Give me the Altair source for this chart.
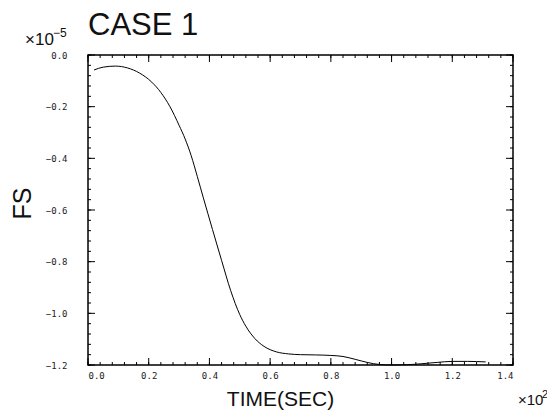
import altair as alt
import pandas as pd

# ---- data (time in units of 10^2 s, FS in units of 10^-5) ----
time_vals = [0.02, 0.05, 0.09, 0.13, 0.17, 0.21, 0.24, 0.27, 0.30, 0.32,
             0.34, 0.36, 0.38, 0.41, 0.44, 0.47, 0.50, 0.52, 0.55, 0.58,
             0.62, 0.66, 0.70, 0.75, 0.80, 0.84, 0.88, 0.92, 0.96, 1.00,
             1.05, 1.10, 1.15, 1.20, 1.25, 1.31]
fs_vals = [-0.058, -0.047, -0.043, -0.050, -0.070, -0.105, -0.145, -0.200, -0.272, -0.325,
           -0.390, -0.470, -0.553, -0.675, -0.795, -0.912, -1.005, -1.050, -1.098, -1.128,
           -1.149, -1.157, -1.160, -1.161, -1.163, -1.167, -1.178, -1.190, -1.198, -1.200,
           -1.199, -1.195, -1.190, -1.186, -1.186, -1.188]

x_major = [0.0, 0.2, 0.4, 0.6, 0.8, 1.0, 1.2, 1.4]
y_major = [0.0, -0.2, -0.4, -0.6, -0.8, -1.0, -1.2]
x_minor = [round(i * 0.04, 2) for i in range(0, 36)]
y_minor = [round(-i * 0.04, 2) for i in range(0, 31)]

W, H = 425, 310
MAJ, MIN = 7, 3

curve = pd.DataFrame({"t": time_vals, "fs": fs_vals})
xs = alt.Scale(domain=[0, 1.4], nice=False, zero=False)
ys = alt.Scale(domain=[-1.2, 0.0], nice=False, zero=False)

line = alt.Chart(curve).mark_line(color="black", strokeWidth=1, interpolate="monotone").encode(
    x=alt.X("t:Q", scale=xs, title="TIME(SEC)",
            axis=alt.Axis(values=x_major, format=".1f", ticks=False, domain=False, grid=False,
                          labelFont="DejaVu Sans Mono", labelFontSize=9, labelColor="#222",
                          labelPadding=6, titleFont="Liberation Sans", titleFontSize=21,
                          titleFontWeight="normal", titleColor="#111",
                          titleX=192, titleY=40, titleBaseline="alphabetic")),
    y=alt.Y("fs:Q", scale=ys, title="FS",
            axis=alt.Axis(values=y_major, format=".1f", ticks=False, domain=False, grid=False,
                          labelFont="DejaVu Sans Mono", labelFontSize=9, labelColor="#222",
                          labelPadding=21, titleFont="Liberation Sans", titleFontSize=25,
                          titleFontWeight="normal", titleColor="#111",
                          titleX=-66, titleY=148, titleBaseline="middle")),
)

def yticks(vals, length):
    d = pd.DataFrame({"v": vals})
    left = alt.Chart(d).mark_rule(color="black", strokeWidth=1).encode(
        y=alt.Y("v:Q", scale=ys), x=alt.value(0), x2=alt.value(length))
    right = alt.Chart(d).mark_rule(color="black", strokeWidth=1).encode(
        y=alt.Y("v:Q", scale=ys), x=alt.value(W), x2=alt.value(W - length))
    return [left, right]

def xticks(vals, length):
    d = pd.DataFrame({"v": vals})
    bottom = alt.Chart(d).mark_rule(color="black", strokeWidth=1).encode(
        x=alt.X("v:Q", scale=xs), y=alt.value(H), y2=alt.value(H - length))
    top = alt.Chart(d).mark_rule(color="black", strokeWidth=1).encode(
        x=alt.X("v:Q", scale=xs), y=alt.value(0), y2=alt.value(length))
    return [bottom, top]

ticks = yticks(y_major, MAJ) + yticks(y_minor, MIN) + xticks(x_major, MAJ) + xticks(x_minor, MIN)

title = alt.Chart().mark_text(text="CASE 1", align="left", baseline="alphabetic",
                              font="Liberation Sans", fontSize=31, color="#111").encode(
    x=alt.value(0), y=alt.value(-20))
ymul = alt.Chart().mark_text(text="×10", align="left", baseline="alphabetic",
                             font="Liberation Sans", fontSize=17, color="#111").encode(
    x=alt.value(-63), y=alt.value(-10))
yexp = alt.Chart().mark_text(text="−5", align="left", baseline="alphabetic",
                             font="Liberation Sans", fontSize=12, color="#111").encode(
    x=alt.value(-35), y=alt.value(-18))
xmul = alt.Chart().mark_text(text="×10", align="left", baseline="alphabetic",
                             font="Liberation Sans", fontSize=15, color="#111").encode(
    x=alt.value(430), y=alt.value(H + 40))
xexp = alt.Chart().mark_text(text="2", align="left", baseline="alphabetic",
                             font="Liberation Sans", fontSize=11, color="#111").encode(
    x=alt.value(454), y=alt.value(H + 33))

chart = alt.layer(line, *ticks, title, ymul, yexp, xmul, xexp).properties(
    width=W, height=H,
    autosize=alt.AutoSizeParams(type="none"),
    padding={"left": 80, "top": 47, "right": 34, "bottom": 46},
    background="white",
).configure_view(stroke="black", strokeWidth=1.5)

chart.save("out.html", embed_options={"renderer": "svg", "actions": False})
